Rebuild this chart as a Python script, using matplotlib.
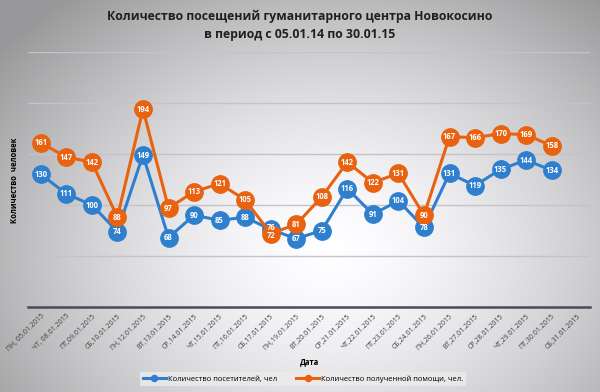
import matplotlib.pyplot as plt
import numpy as np

# Data
dates = ['ПН, 05.01.2015', 'ЧТ, 08.01.2015', 'ПТ,09.01.2015', 'СБ,10.01.2015',
         'ПН,12.01.2015', 'ВТ,13.01.2015', 'СР,14.01.2015', 'ЧТ,15.01.2015',
         'ПТ,16.01.2015', 'СБ,17.01.2015', 'ПН,19.01.2015', 'ВТ,20.01.2015',
         'СР,21.01.2015', 'ЧТ,22.01.2015', 'ПТ,23.01.2015', 'СБ,24.01.2015',
         'ПН,26.01.2015', 'ВТ,27.01.2015', 'СР,28.01.2015', 'ЧТ,29.01.2015',
         'ПТ,30.01.2015', 'СБ,31.01.2015']
visitors = [130, 111, 100, 74, 149, 68, 90, 85, 88, 76, 67, 75, 116, 91, 104, 78,
            131, 119, 135, 144, 134]
help_given = [161, 147, 142, 88, 194, 97, 113, 121, 105, 72, 81, 108, 142, 122, 131, 90,
              167, 166, 170, 169, 158]

title = 'Количество посещений гуманитарного центра Новокосино\nв период с 05.01.14 по 30.01.15'
blue = '#2f7fcf'
orange = '#e8620f'

plt.rcParams['font.family'] = ['Open Sans', 'DejaVu Sans']

fig = plt.figure(figsize=(6, 3.92), dpi=100)

# gradient background over the whole figure
bg = fig.add_axes([0, 0, 1, 1], zorder=-10)
yy, xx = np.mgrid[0:392, 0:600]
r = np.sqrt(((xx - 330) / 320.0) ** 2 + ((yy - 250) / 250.0) ** 2)
shade = 1.0 - 0.27 * np.clip(r, 0, 1.3) ** 1.5
img = np.dstack([shade, shade, shade * 1.01])
bg.imshow(np.clip(img, 0, 1), aspect='auto', extent=[0, 1, 0, 1])
bg.axis('off')

ax = fig.add_axes([28 / 600, 1 - 307 / 392, 562 / 600, 255 / 392])
ax.patch.set_alpha(0)

x = np.arange(len(visitors))
ax.plot(x, visitors, color=blue, lw=2.2, marker='o', ms=12.5, zorder=3,
        label='Количество посетителей, чел')
ax.plot(x, help_given, color=orange, lw=2.2, marker='o', ms=12.5, zorder=4,
        label='Количество полученной помощи, чел.')

# labels sit on the markers; push apart the two that nearly coincide
for xi, vb, vo in zip(x, visitors, help_given):
    db = do = 0
    if abs(vb - vo) < 8:
        shift = (8 - abs(vb - vo)) / 2
        db, do = (shift, -shift) if vb >= vo else (-shift, shift)
    ax.text(xi, vb + db, str(vb), color='white', fontsize=5.5, fontweight='bold',
            ha='center', va='center', zorder=6)
    ax.text(xi, vo + do, str(vo), color='white', fontsize=5.5, fontweight='bold',
            ha='center', va='center', zorder=6)

ax.set_xlim(-0.5, len(dates) - 0.5)
ax.set_ylim(0, 250)
ax.set_yticks([50, 100, 150, 200, 250])
ax.yaxis.grid(True, color='#c4c4c8', lw=1)
ax.tick_params(axis='y', length=0, labelleft=False)
ax.set_xticks(np.arange(len(dates)))
ax.set_xticklabels(dates, rotation=45, ha='right', rotation_mode='anchor',
                   fontsize=5, color='#404040')
ax.tick_params(axis='x', length=0, pad=4)
for s in ['top', 'right', 'left']:
    ax.spines[s].set_visible(False)
ax.spines['bottom'].set_color('#4a4a58')
ax.spines['bottom'].set_linewidth(1.8)

ax.set_xlabel('Дата', fontsize=5.5, fontweight='bold')
ax.xaxis.set_label_coords(0.5, -0.195)
fig.text(15 / 600, 1 - 180 / 392, 'Количество  человек', rotation=90, fontsize=5.5,
         fontweight='bold', ha='center', va='center')

fig.suptitle(title, fontsize=8.8, fontweight='bold', y=0.975, color='#202020',
             linespacing=1.5)

leg = fig.legend(loc='center', bbox_to_anchor=(0.505, 1 - 379 / 392), ncol=2,
                 fontsize=5.5, frameon=True, fancybox=False, markerscale=0.35,
                 handlelength=3, handletextpad=0.3, columnspacing=2.5)
leg.get_frame().set_facecolor('#ececec')
leg.get_frame().set_edgecolor('none')

fig.savefig('out.png', dpi=100)
